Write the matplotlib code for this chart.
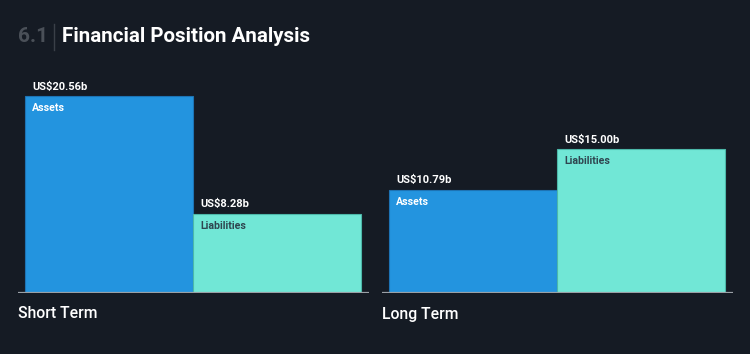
import matplotlib
matplotlib.use("Agg")
import matplotlib.pyplot as plt

# data
groups = ["Short Term", "Long Term"]
series = ["Assets", "Liabilities"]
short_term = [20.56, 8.28]
long_term = [10.79, 15.00]
value_labels = [["US$20.56b", "US$8.28b"], ["US$10.79b", "US$15.00b"]]

BG = "#151b24"
COLORS = ["#2394df", "#71e7d6"]
EDGES = ["#1d73b4", "#4cb8a9"]
INNER_TEXT = ["#ffffff", "#2f4650"]

plt.rcParams["font.family"] = ["Roboto", "DejaVu Sans"]

W, H = 750, 354
fig = plt.figure(figsize=(W / 100, H / 100), dpi=100)
fig.patch.set_facecolor(BG)

YMAX = 22.0
px_per_unit = 197 / 20.56
ax_h = YMAX * px_per_unit
base_y = 293

for gi, (name, vals) in enumerate(zip(groups, [short_term, long_term])):
    left_px = 18 + gi * 364
    ax = fig.add_axes([left_px / W, (H - base_y) / H, 351 / W, ax_h / H])
    ax.set_facecolor(BG)
    ax.set_xlim(-0.5 - 7 / 168, 1.5 + 8 / 168)
    ax.set_ylim(0, YMAX)
    for s in ax.spines.values():
        s.set_visible(False)
    ax.set_xticks([])
    ax.set_yticks([])
    xs = range(len(vals))
    ax.bar(xs, vals, width=1.0, color=COLORS, edgecolor=EDGES, linewidth=0.8, zorder=2)
    ax.axhline(0, color="#9aa0a6", linewidth=1.6, zorder=3)
    for i, v in enumerate(vals):
        x0 = i - 0.5 + 7 / 168
        ax.annotate(value_labels[gi][i], (x0, v), xytext=(0, 3), textcoords="offset points",
                    ha="left", va="bottom", color="#ffffff", fontsize=8, fontweight="bold")
        ax.annotate(series[i], (x0, v), xytext=(0, -5), textcoords="offset points",
                    ha="left", va="top", color=INNER_TEXT[i], fontsize=7.6, fontweight="bold")
    fig.text(left_px / W, 1 - 314 / H, name, color="#ffffff", fontsize=11.3,
             fontweight="medium", ha="left", va="center")

# title
fig.text(18 / W, 1 - 37 / H, "6.1", color="#4a5058", fontsize=15, fontweight="bold",
         ha="left", va="center")
fig.add_artist(plt.Line2D([54 / W, 54 / W], [1 - 24 / H, 1 - 50 / H], color="#3a4048",
                          linewidth=1))
fig.text(62 / W, 1 - 37 / H, "Financial Position Analysis", color="#ffffff", fontsize=14.8,
         fontweight="bold", ha="left", va="center")

fig.savefig("out.png", dpi=100, facecolor=BG)
